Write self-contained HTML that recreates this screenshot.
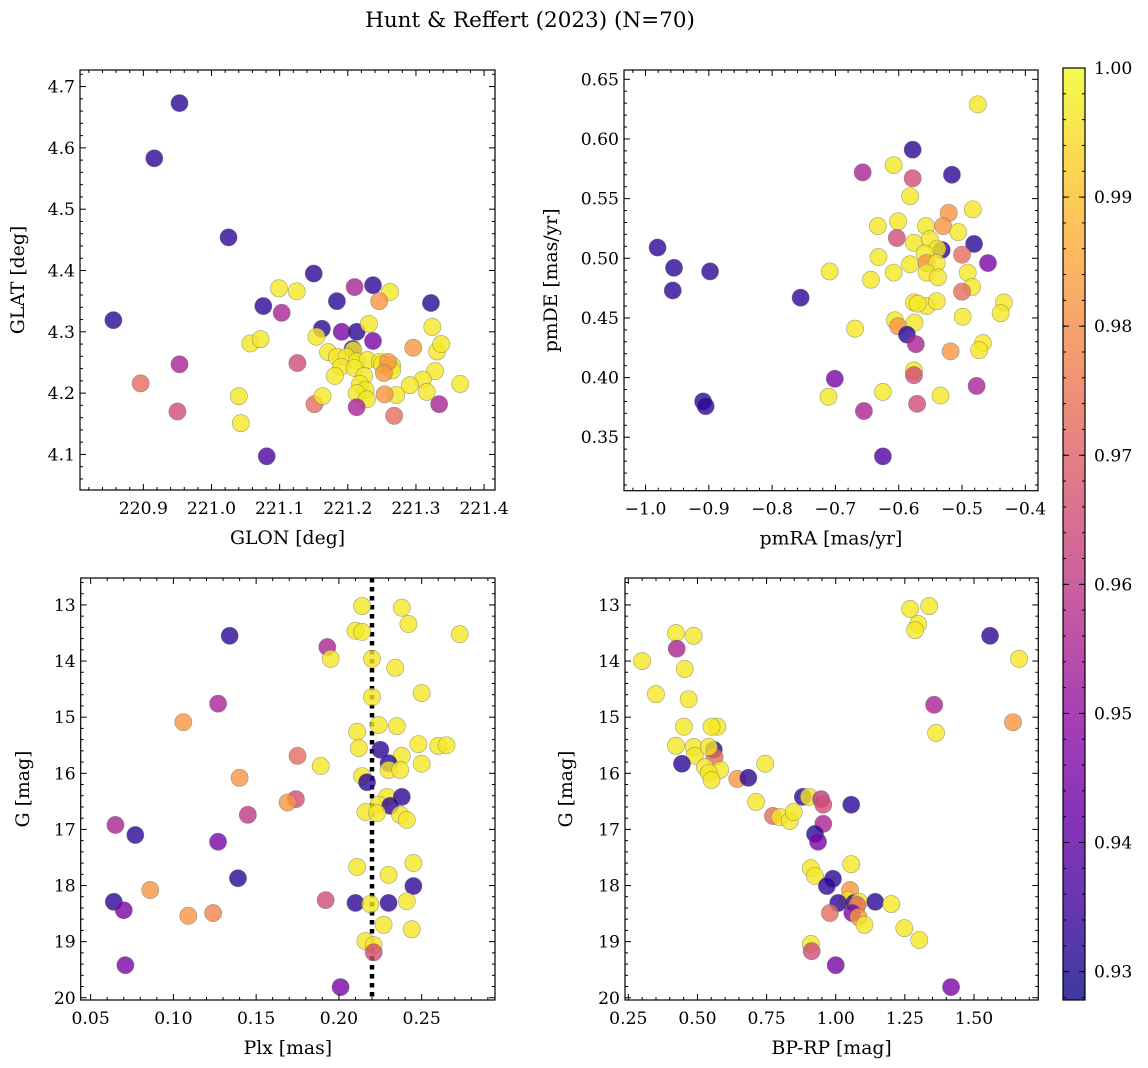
<!DOCTYPE html>
<html><head><meta charset="utf-8"><style>
html,body{margin:0;padding:0;background:#fff}
svg{display:block;font-family:"DejaVu Serif","Liberation Serif",serif}
</style></head><body>
<svg id="fig" width="1148" height="1068" viewBox="0 0 1148 1068" xmlns="http://www.w3.org/2000/svg">
<text x="530" y="27" font-size="21.5" text-anchor="middle">Hunt &amp; Reffert (2023) (N=70)</text>
</svg>
<script>
// ---- Panel A: GLON vs GLAT ----
const glonA=[220.953,220.916,221.025,220.856,220.896,220.953,220.950,221.081,221.040,221.043,221.150,221.099,221.125,221.076,221.103,221.210,221.237,221.262,221.246,221.184,221.322,221.162,221.154,221.191,221.213,221.231,221.237,221.324,221.057,221.072,221.296,221.331,221.337,221.126,221.207,221.208,221.171,221.184,221.198,221.213,221.229,221.247,221.190,221.210,221.181,221.224,221.218,221.226,221.213,221.228,221.250,221.265,221.265,221.259,221.253,221.328,221.310,221.291,221.316,221.365,221.271,221.254,221.268,221.334,221.213,221.151,221.163];
const glatA=[4.673,4.583,4.454,4.319,4.216,4.247,4.170,4.097,4.195,4.151,4.395,4.371,4.366,4.342,4.331,4.373,4.376,4.365,4.350,4.350,4.347,4.305,4.292,4.300,4.300,4.313,4.285,4.308,4.281,4.288,4.274,4.268,4.280,4.249,4.272,4.270,4.267,4.259,4.259,4.252,4.254,4.251,4.243,4.241,4.228,4.228,4.215,4.205,4.200,4.190,4.247,4.245,4.237,4.251,4.233,4.236,4.222,4.213,4.202,4.215,4.197,4.198,4.163,4.182,4.177,4.182,4.195];
const probA=[0.932,0.932,0.932,0.932,0.973,0.955,0.965,0.937,0.997,0.997,0.932,0.997,0.997,0.932,0.955,0.955,0.932,0.997,0.982,0.932,0.932,0.932,0.997,0.945,0.932,0.997,0.945,0.997,0.997,0.997,0.982,0.997,0.997,0.965,0.932,0.997,0.997,0.997,0.997,0.997,0.997,0.997,0.997,0.997,0.997,0.997,0.997,0.997,0.997,0.997,0.997,0.997,0.997,0.982,0.982,0.997,0.997,0.997,0.997,0.997,0.997,0.982,0.973,0.955,0.955,0.973,0.997];
// ---- Panel B: pmRA vs pmDE ----
const pmraB=[-0.981,-0.955,-0.957,-0.898,-0.755,-0.909,-0.905,-0.701,-0.711,-0.709,-0.669,-0.655,-0.657,-0.625,-0.625,-0.475,-0.578,-0.608,-0.578,-0.516,-0.582,-0.521,-0.483,-0.530,-0.506,-0.633,-0.601,-0.557,-0.603,-0.576,-0.551,-0.481,-0.532,-0.539,-0.559,-0.500,-0.632,-0.582,-0.556,-0.540,-0.459,-0.608,-0.556,-0.538,-0.491,-0.644,-0.484,-0.500,-0.576,-0.556,-0.540,-0.570,-0.434,-0.439,-0.499,-0.606,-0.601,-0.575,-0.587,-0.573,-0.518,-0.467,-0.473,-0.576,-0.576,-0.534,-0.477,-0.571];
const pmdeB=[0.509,0.492,0.473,0.489,0.467,0.380,0.376,0.399,0.384,0.489,0.441,0.372,0.572,0.334,0.388,0.629,0.591,0.578,0.567,0.570,0.552,0.538,0.541,0.527,0.522,0.527,0.531,0.527,0.517,0.513,0.516,0.512,0.507,0.508,0.504,0.503,0.501,0.495,0.496,0.496,0.496,0.488,0.488,0.484,0.488,0.482,0.476,0.472,0.463,0.460,0.464,0.462,0.463,0.454,0.451,0.448,0.443,0.446,0.436,0.428,0.422,0.429,0.423,0.406,0.402,0.385,0.393,0.378];
const probB=[0.932,0.932,0.932,0.932,0.932,0.932,0.932,0.945,0.997,0.997,0.997,0.955,0.955,0.937,0.997,0.997,0.932,0.997,0.965,0.932,0.997,0.982,0.997,0.982,0.997,0.997,0.997,0.997,0.965,0.997,0.997,0.932,0.932,0.997,0.997,0.973,0.997,0.997,0.982,0.997,0.945,0.997,0.997,0.997,0.997,0.997,0.997,0.973,0.997,0.997,0.997,0.997,0.997,0.997,0.997,0.997,0.982,0.997,0.932,0.955,0.982,0.997,0.997,0.997,0.965,0.997,0.955,0.965];
// ---- Panel C: Plx vs G ----
const plxC=[0.214,0.238,0.273,0.210,0.214,0.242,0.134,0.193,0.195,0.220,0.234,0.250,0.220,0.127,0.106,0.224,0.235,0.211,0.140,0.175,0.189,0.212,0.225,0.238,0.248,0.260,0.265,0.230,0.230,0.237,0.250,0.214,0.217,0.229,0.238,0.224,0.231,0.174,0.169,0.145,0.216,0.223,0.237,0.241,0.065,0.077,0.127,0.211,0.245,0.230,0.139,0.245,0.086,0.064,0.070,0.192,0.210,0.219,0.230,0.241,0.109,0.124,0.244,0.227,0.216,0.221,0.221,0.071,0.201];
const gC=[13.02,13.05,13.52,13.46,13.48,13.34,13.55,13.75,13.96,13.96,14.12,14.57,14.64,14.76,15.09,15.14,15.16,15.26,16.08,15.69,15.87,15.55,15.58,15.69,15.48,15.51,15.50,15.82,15.94,15.94,15.83,16.05,16.16,16.42,16.42,16.56,16.58,16.46,16.52,16.74,16.69,16.71,16.74,16.83,16.92,17.10,17.22,17.67,17.60,17.81,17.87,18.01,18.08,18.29,18.44,18.26,18.31,18.33,18.31,18.28,18.54,18.49,18.78,18.70,18.99,19.06,19.19,19.42,19.81];
const probC=[0.997,0.997,0.997,0.997,0.997,0.997,0.932,0.955,0.997,0.997,0.997,0.997,0.997,0.955,0.982,0.997,0.997,0.997,0.982,0.973,0.997,0.997,0.932,0.997,0.997,0.997,0.997,0.932,0.997,0.997,0.997,0.997,0.932,0.997,0.932,0.997,0.932,0.965,0.982,0.960,0.997,0.997,0.997,0.997,0.955,0.932,0.945,0.997,0.997,0.997,0.932,0.932,0.982,0.932,0.945,0.965,0.932,0.997,0.932,0.997,0.982,0.978,0.997,0.997,0.997,0.997,0.965,0.945,0.945];
// ---- Panel D: BP-RP vs G ----
const bprpD=[0.300,0.350,0.422,0.425,0.486,0.454,0.468,0.451,0.422,0.486,0.490,0.559,0.562,0.541,0.572,0.551,0.582,0.527,0.541,0.551,0.444,0.644,0.745,0.712,0.773,0.798,0.834,0.848,0.684,0.881,0.903,0.947,0.955,0.955,1.056,0.925,0.936,0.910,0.925,0.990,0.968,1.056,1.052,1.045,1.009,1.067,1.085,1.078,1.143,1.201,1.060,0.979,1.082,1.104,1.248,1.302,0.910,0.913,1.000,1.417,1.269,1.298,1.287,1.338,1.558,1.663,1.641,1.356,1.363];
const gD=[14.00,14.59,13.50,13.78,13.55,14.14,14.68,15.17,15.51,15.53,15.69,15.58,15.71,15.53,15.17,15.17,15.94,15.89,15.99,16.12,15.83,16.10,15.83,16.51,16.76,16.78,16.85,16.69,16.08,16.42,16.42,16.46,16.90,16.56,16.56,17.08,17.22,17.69,17.83,17.88,18.01,17.62,18.08,18.26,18.31,18.31,18.29,18.35,18.29,18.33,18.49,18.49,18.56,18.70,18.76,18.97,19.04,19.17,19.42,19.81,13.07,13.34,13.45,13.02,13.55,13.96,15.09,14.78,15.28];
const probD=[0.997,0.997,0.997,0.955,0.997,0.997,0.997,0.997,0.997,0.997,0.997,0.932,0.973,0.997,0.997,0.997,0.997,0.997,0.997,0.997,0.932,0.982,0.997,0.997,0.973,0.997,0.997,0.997,0.932,0.932,0.997,0.960,0.955,0.965,0.932,0.932,0.945,0.997,0.997,0.932,0.932,0.997,0.982,0.997,0.932,0.932,0.997,0.973,0.932,0.997,0.945,0.973,0.982,0.997,0.997,0.997,0.997,0.965,0.945,0.945,0.997,0.997,0.997,0.997,0.932,0.997,0.982,0.955,0.997];
const plxCut=0.22;
const cbTicks=[0.93,0.94,0.95,0.96,0.97,0.98,0.99,1.00];

const NS='http://www.w3.org/2000/svg';
const svg=document.getElementById('fig');
function mk(tag,attrs,parent){const e=document.createElementNS(NS,tag);for(const k in attrs)e.setAttribute(k,attrs[k]);(parent||svg).appendChild(e);return e;}
const VMIN=0.9278,VMAX=1.0;
const TFS=17.2, LFS=18.8;
const stops=[[13,8,135],[65,4,157],[106,0,168],[143,13,164],[177,42,144],[204,71,120],[225,100,98],[242,132,75],[252,166,54],[252,206,37],[240,249,33]];
function plasma(t){t=Math.max(0,Math.min(1,t));const s=t*10,i=Math.min(9,Math.floor(s)),f=s-i;const a=stops[i],b=stops[i+1];return 'rgb('+a.map((v,k)=>Math.round(v+(b[k]-v)*f)).join(',')+')';}
function col(p){return plasma((p-VMIN)/(VMAX-VMIN));}
function fmt(v,d){return (v<0?'\u2212':'')+Math.abs(v).toFixed(d);}

function panel(cfg){
  const g=mk('g',{});
  
  
  const {x0,y0,x1,y1}=cfg;
  const sx=v=>x0+(v-cfg.xmin)/(cfg.xmax-cfg.xmin)*(x1-x0);
  const sy=cfg.yinv?(v=>y0+(v-cfg.ymin)/(cfg.ymax-cfg.ymin)*(y1-y0)):(v=>y1-(v-cfg.ymin)/(cfg.ymax-cfg.ymin)*(y1-y0));
  const cid='clip-'+cfg.name;
  const cp=mk('clipPath',{id:cid},g);mk('rect',{x:x0,y:y0,width:x1-x0,height:y1-y0},cp);
  const pts=mk('g',{'clip-path':'url(#'+cid+')'},g);
  
  
  if(cfg.vline!==undefined){
    const l=mk('line',{x1:sx(cfg.vline),x2:sx(cfg.vline),y1:y0,y2:y1,stroke:'#000','stroke-width':4.5,'stroke-dasharray':'4.5,4.5'},pts);
    
    
  }
  for(let i=0;i<cfg.xs.length;i++){
    const c=mk('circle',{cx:sx(cfg.xs[i]),cy:sy(cfg.ys[i]),r:8.6,fill:col(cfg.ps[i]),'fill-opacity':0.8,stroke:'#666','stroke-opacity':0.6,'stroke-width':0.6},pts);
    
    
  }
  mk('rect',{x:x0,y:y0,width:x1-x0,height:y1-y0,fill:'none',stroke:'#000','stroke-width':1.2},g);
  const tk=mk('g',{stroke:'#000','stroke-width':1},g);
  const eps=1e-9;
  const xlo=Math.min(cfg.xmin,cfg.xmax),xhi=Math.max(cfg.xmin,cfg.xmax);
  for(let v=Math.ceil(xlo/cfg.xminor-eps)*cfg.xminor;v<=xhi+eps;v+=cfg.xminor){
    const X=sx(v);const maj=Math.abs(v/cfg.xmajor-Math.round(v/cfg.xmajor))<1e-6;const L=maj?6:3;
    mk('line',{x1:X,x2:X,y1:y1,y2:y1-L},tk);mk('line',{x1:X,x2:X,y1:y0,y2:y0+L},tk);
    if(maj){const t=mk('text',{x:X,y:y1+24,'font-size':TFS,'text-anchor':'middle',stroke:'none'},g);t.textContent=fmt(v,cfg.xd);
      }
  }
  const ylo=Math.min(cfg.ymin,cfg.ymax),yhi=Math.max(cfg.ymin,cfg.ymax);
  for(let v=Math.ceil(ylo/cfg.yminor-eps)*cfg.yminor;v<=yhi+eps;v+=cfg.yminor){
    const Y=sy(v);const maj=Math.abs(v/cfg.ymajor-Math.round(v/cfg.ymajor))<1e-6;const L=maj?6:3;
    mk('line',{x1:x0,x2:x0+L,y1:Y,y2:Y},tk);mk('line',{x1:x1,x2:x1-L,y1:Y,y2:Y},tk);
    if(maj){const t=mk('text',{x:x0-5,y:Y+6,'font-size':TFS,'text-anchor':'end',stroke:'none'},g);t.textContent=fmt(v,cfg.yd);
      }
  }
  const xt=mk('text',{x:(x0+x1)/2,y:y1+54,'font-size':LFS,'text-anchor':'middle'},g);xt.textContent=cfg.xlabel;
  
  const yx=cfg.ylx,yy=(y0+y1)/2;
  const yt=mk('text',{x:yx,y:yy,'font-size':LFS,'text-anchor':'middle',transform:'rotate(-90 '+yx+' '+yy+')'},g);yt.textContent=cfg.ylabel;
  
}
panel({name:'glon-glat-panel',x0:80,y0:70,x1:495,y1:490,xmin:220.807,xmax:221.416,ymin:4.042,ymax:4.727,xs:glonA,ys:glatA,ps:probA,xmajor:0.1,xminor:0.02,ymajor:0.1,yminor:0.02,xd:1,yd:1,xlabel:'GLON [deg]',ylabel:'GLAT [deg]',ylx:24});
panel({name:'pm-panel',x0:624,y0:70,x1:1038,y1:490.7,xmin:-1.034,xmax:-0.380,ymin:0.3052,ymax:0.6578,xs:pmraB,ys:pmdeB,ps:probB,xmajor:0.1,xminor:0.02,ymajor:0.05,yminor:0.01,xd:1,yd:2,xlabel:'pmRA [mas/yr]',ylabel:'pmDE [mas/yr]',ylx:557});
panel({name:'plx-g-panel',x0:80.7,y0:578,x1:495,y1:1000,xmin:0.044,xmax:0.2943,ymin:12.52,ymax:20.04,yinv:true,xs:plxC,ys:gC,ps:probC,xmajor:0.05,xminor:0.01,ymajor:1,yminor:0.2,xd:2,yd:0,xlabel:'Plx [mas]',ylabel:'G [mag]',ylx:29,vline:plxCut});
panel({name:'cmd-panel',x0:625,y0:578,x1:1038.3,y1:1000,xmin:0.238,xmax:1.7325,ymin:12.52,ymax:20.04,yinv:true,xs:bprpD,ys:gD,ps:probD,xmajor:0.25,xminor:0.05,ymajor:1,yminor:0.2,xd:2,yd:0,xlabel:'BP-RP [mag]',ylabel:'G [mag]',ylx:572});

// ---- Colorbar ----
const cb=mk('g',{});


const cbx=1063,cbw=22,cbt=68,cbb=1000;
const defs=mk('defs',{},cb);
const lg=mk('linearGradient',{id:'cbgrad',x1:0,y1:1,x2:0,y2:0},defs);
for(let i=0;i<=20;i++){mk('stop',{offset:i/20,'stop-color':plasma(i/20)},lg);}
mk('rect',{x:cbx,y:cbt,width:cbw,height:cbb-cbt,fill:'url(#cbgrad)','fill-opacity':0.8},cb);
mk('rect',{x:cbx,y:cbt,width:cbw,height:cbb-cbt,fill:'none',stroke:'#000','stroke-width':1.2},cb);
const cy=p=>cbb-(p-VMIN)/(VMAX-VMIN)*(cbb-cbt);
for(let v=0.928;v<=1.0005;v+=0.002){const Y=cy(v);mk('line',{x1:cbx+cbw,x2:cbx+cbw-3,y1:Y,y2:Y,stroke:'#000'},cb);mk('line',{x1:cbx,x2:cbx+3,y1:Y,y2:Y,stroke:'#000'},cb);}
cbTicks.forEach(v=>{const Y=cy(v);mk('line',{x1:cbx+cbw,x2:cbx+cbw-6,y1:Y,y2:Y,stroke:'#000'},cb);mk('line',{x1:cbx,x2:cbx+6,y1:Y,y2:Y,stroke:'#000'},cb);
  const t=mk('text',{x:cbx+cbw+9,y:Y+6,'font-size':TFS},cb);t.textContent=v.toFixed(2);
  });
</script>
</body></html>
